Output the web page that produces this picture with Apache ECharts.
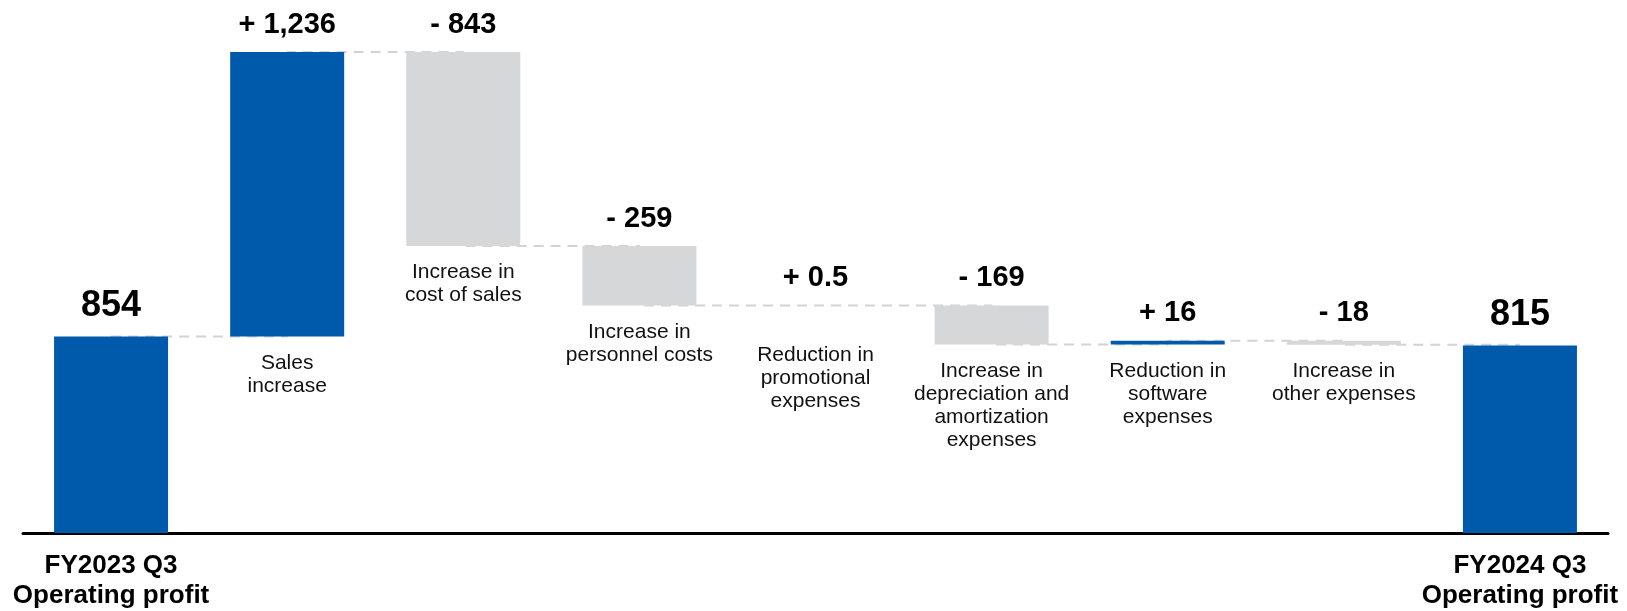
<!DOCTYPE html>
<html>
<head>
<meta charset="utf-8">
<title>Operating profit bridge</title>
<script src="https://cdn.jsdelivr.net/npm/echarts@6/dist/echarts.min.js"></script>
<style>
  html, body { margin: 0; padding: 0; background: #ffffff; }
  #chart { width: 1627px; height: 611px; }
</style>
</head>
<body>
<div id="chart"></div>
<script>
// Bridge steps, left to right
const categories = [
  'FY2023 Q3\nOperating profit',
  'Sales\nincrease',
  'Increase in\ncost of sales',
  'Increase in\npersonnel costs',
  'Reduction in\npromotional\nexpenses',
  'Increase in\ndepreciation and\namortization\nexpenses',
  'Reduction in\nsoftware\nexpenses',
  'Increase in\nother expenses',
  'FY2024 Q3\nOperating profit'
];
const startProfit = 854;
const changes = [1236, -843, -259, 0.5, -169, 16, -18];
const endProfit = 815;

const BLUE = '#005aab';
const GREY = '#d6d7d9';
const FONT = '"Liberation Sans", Arial, Helvetica, sans-serif';
const BAR_WIDTH = 114;

const last = categories.length - 1;

// Build the floating pieces: an invisible base plus the visible step
const baseData = [];
const stepData = [];
const levels = [];
let running = startProfit;

function totalItem(v) {
  return {
    value: v,
    itemStyle: { color: BLUE },
    label: { show: true, position: 'top', distance: 12, formatter: String(v),
             fontSize: 36, fontWeight: 'bold', color: '#000', fontFamily: FONT }
  };
}

baseData.push({ value: 0, label: { show: false } });
stepData.push(totalItem(startProfit));
levels.push(running);

changes.forEach((c, k) => {
  const i = k + 1;
  const prev = running;
  running = running + c;
  const text = (c >= 0 ? '+ ' : '- ') + Math.abs(c).toLocaleString('en-US');
  baseData.push({
    value: Math.min(prev, running),
    label: {
      show: true, position: 'insideTop',
      distance: Math.abs(c) < 1 ? 38 : 15,
      formatter: categories[i]
    }
  });
  stepData.push({
    value: Math.abs(c),
    itemStyle: { color: c >= 0 ? BLUE : GREY },
    label: { show: true, position: 'top', distance: 13, formatter: text,
             fontSize: 29, fontWeight: 'bold', color: '#000', fontFamily: FONT }
  });
  levels.push(running);
});

baseData.push({ value: 0, label: { show: false } });
stepData.push(totalItem(endProfit));
levels.push(endProfit);

const chart = echarts.init(document.getElementById('chart'), null, { renderer: 'canvas' });

chart.setOption({
  animation: false,
  backgroundColor: '#ffffff',
  grid: { left: 23, right: 19, top: 52, bottom: 75, containLabel: false },
  xAxis: {
    type: 'category',
    data: categories,
    axisLine: { show: true, lineStyle: { color: '#000', width: 3 } },
    axisTick: { show: false },
    axisLabel: {
      interval: 0,
      margin: 18,
      fontFamily: FONT,
      fontSize: 26,
      fontWeight: 'bold',
      lineHeight: 30,
      color: '#000',
      formatter: (v, i) => (i === 0 || i === last) ? v : ''
    }
  },
  yAxis: {
    type: 'value',
    min: 0,
    max: 'dataMax',
    show: false,
    splitLine: { show: false }
  },
  series: [
    {
      // dashed connector at each running level
      type: 'line',
      data: levels,
      step: 'end',
      symbol: 'none',
      silent: true,
      z: 1,
      lineStyle: { color: '#d3d3d3', width: 2, type: [10, 7] }
    },
    {
      type: 'bar',
      stack: 'bridge',
      barWidth: BAR_WIDTH,
      data: baseData,
      z: 3,
      itemStyle: { color: 'rgba(0,0,0,0)' },
      label: {
        fontFamily: FONT,
        fontSize: 21,
        lineHeight: 23,
        color: '#111',
        align: 'center'
      }
    },
    {
      type: 'bar',
      stack: 'bridge',
      barWidth: BAR_WIDTH,
      data: stepData,
      z: 3
    }
  ]
});
</script>
</body>
</html>
